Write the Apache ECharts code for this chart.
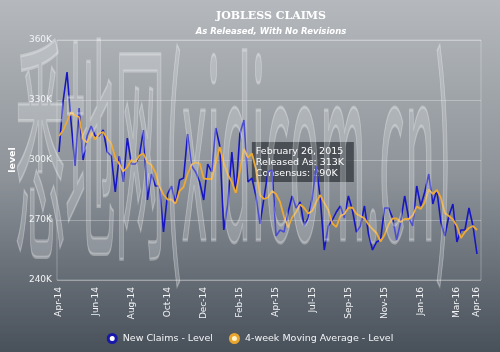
<!DOCTYPE html>
<html><head><meta charset="utf-8">
<script src="https://cdn.jsdelivr.net/npm/echarts@6/dist/echarts.min.js"></script>
<style>html,body{margin:0;padding:0;}#c{width:500px;height:352px;}</style>
</head><body><div id="c"></div>
<script>
// Weekly release dates (Thursdays) from Apr 17, 2014 to Apr 14, 2016
const startDate = '2014-04-17';
const weekCount = 105;
const monthNames = ['Jan','Feb','Mar','Apr','May','Jun','Jul','Aug','Sep','Oct','Nov','Dec'];
const categories = [];
(function(){ const t0 = Date.parse(startDate + 'T00:00:00Z');
  for (let i = 0; i < weekCount; i++) categories.push(new Date(t0 + i*7*86400000).toISOString().slice(0,10)); })();

const newClaims = [304,329,344,319,297,326,300,312,317,312,312,315,304,302,284,302,289,311,298,298,
  302,315,280,293,287,287,264,283,287,278,290,291,313,297,294,289,280,298,294,316,
  307,265,278,304,283,313,320,289,291,282,268,281,294,295,262,265,264,274,282,276,
  279,267,271,281,297,281,255,267,270,274,277,271,282,275,264,267,277,263,255,259,
  260,276,276,271,260,269,282,271,267,287,277,284,293,278,285,269,262,272,278,259,
  265,265,276,267,253];
const movingAvg = [312,314.75,319.25,324,322.25,321.5,310.5,308.75,313.75,310.25,313.25,314,310.75,308.25,301.25,298,294.25,296.5,300,299,
  302.25,303.25,298.75,297.5,293.75,286.75,282.75,280.25,280.25,278,284.5,286.5,293,297.75,298.75,298.25,290.75,290.5,290.5,298.5,
  306.5,298.5,292.75,289,283.25,294.5,305.5,301.25,303.25,295.5,282.5,280.5,281.25,284.5,283,279,271.5,266.25,271.25,274,
  277.75,276,273.25,274.5,279,282.5,278.5,275,268.25,266.5,272,273,276,276.25,273,272,270.75,267.75,265.5,263.5,
  259.25,262.5,267.75,270.75,270.75,269,270.5,270.5,272.25,276.75,275.5,278.75,285.25,283,285,281.25,273.5,272,270.25,267,
  261,264,266,267,265];
const yTicks = [240,270,300,330,360];
const tipIndex = 45;
const tipLines = ['February 26, 2015','Released As: 313K','Consensus: 290K'];
const titleText = 'JOBLESS CLAIMS';
const subtitleText = 'As Released, With No Revisions';
const seriesNames = ['New Claims - Level','4-week Moving Average - Level'];
const watermark = '悉地网(xidicom.cn)';

const chart = echarts.init(document.getElementById('c'), null, {renderer:'canvas'});
const lbl = '#f2f4f6';
const option = {
  animation:false,
  backgroundColor:{type:'linear',x:0,y:0,x2:0,y2:1,colorStops:[
    {offset:0,color:'#b5b9bd'},{offset:0.5,color:'#8d9399'},{offset:1,color:'#48505a'}]},
  title:[
    {text:titleText,left:266,top:6,textAlign:'center',
     textStyle:{color:'#ffffff',fontFamily:'DejaVu Serif',fontWeight:'bold',fontSize:11}},
    {text:subtitleText,left:266,top:22,textAlign:'center',
     textStyle:{color:'#ffffff',fontFamily:'DejaVu Sans',fontStyle:'italic',fontWeight:'bold',fontSize:8.5}}
  ],
  legend:{bottom:3,left:'center',itemWidth:11,itemHeight:8,itemGap:16,
    textStyle:{color:lbl,fontFamily:'DejaVu Sans',fontSize:9.5},
    data:[
      {name:seriesNames[0],icon:'circle',itemStyle:{color:'#ffffff',borderColor:'#1818a8',borderWidth:3}},
      {name:seriesNames[1],icon:'circle',itemStyle:{color:'#fff3c8',borderColor:'#e8a530',borderWidth:3}}
    ]},
  grid:[
    {left:52,right:19,top:40,bottom:72,show:true,borderColor:'rgba(255,255,255,0.28)',borderWidth:1,backgroundColor:'transparent'},
    {left:59,right:23,top:40,bottom:72}
  ],
  xAxis:[
    {type:'value',gridIndex:0,min:0,max:1,show:false},
    {type:'category',gridIndex:1,data:categories,boundaryGap:false,
     axisLine:{show:false},axisTick:{show:false},splitLine:{show:false},
     axisLabel:{rotate:90,margin:7,color:lbl,fontFamily:'DejaVu Sans',fontSize:9,
       interval:function(i){return i%9===0 || i===categories.length-1;},
       formatter:function(v){const d=new Date(v+'T00:00:00Z');return monthNames[d.getUTCMonth()]+'-'+String(d.getUTCFullYear()).slice(2);}}}
  ],
  yAxis:[
    {type:'value',gridIndex:0,min:yTicks[0],max:yTicks[yTicks.length-1],interval:30,
     name:'level',nameLocation:'middle',nameGap:38,nameRotate:90,
     nameTextStyle:{color:'#ffffff',fontFamily:'DejaVu Sans',fontWeight:'bold',fontSize:9.5},
     axisLine:{show:false},axisTick:{show:false},
     splitLine:{show:true,lineStyle:{color:'rgba(255,255,255,0.28)',width:1}},
     axisLabel:{color:lbl,fontFamily:'DejaVu Sans',fontSize:9,margin:5,formatter:function(v){return v+'K';}}},
    {type:'value',gridIndex:1,min:yTicks[0],max:yTicks[yTicks.length-1],show:false,splitLine:{show:false}}
  ],
  series:[
    {name:seriesNames[0],type:'line',xAxisIndex:1,yAxisIndex:1,data:newClaims,showSymbol:false,
     color:'#1616c4',lineStyle:{color:'#1616c4',width:1.6},z:3},
    {name:seriesNames[1],type:'line',xAxisIndex:1,yAxisIndex:1,data:movingAvg,showSymbol:false,
     color:'#eda935',lineStyle:{color:'#eda935',width:1.8},z:4}
  ]
};
chart.setOption(option);

const p = chart.convertToPixel({xAxisIndex:1,yAxisIndex:1},[tipIndex,newClaims[tipIndex]]);
chart.setOption({graphic:[
  {type:'text',left:15,top:28,z:50,silent:true,scaleX:0.96,scaleY:4.6,
   style:{text:watermark,font:'52px "Noto Sans CJK SC"',fill:'rgba(232,235,238,0.26)',
     stroke:'rgba(255,255,255,0.32)',lineWidth:0.7,
     shadowColor:'rgba(30,35,40,0.25)',shadowOffsetX:1.5,shadowOffsetY:1,shadowBlur:1}},
  {type:'group',left:p[0]+12,top:p[1]+8,z:60,children:[
    {type:'rect',shape:{x:0,y:0,width:102,height:40},style:{fill:'rgba(45,50,56,0.72)'}},
    {type:'text',x:4,y:4,style:{text:tipLines.join('\n'),fill:'#ffffff',font:'9.5px "DejaVu Sans"',lineHeight:11}}
  ]}
]});
</script></body></html>
